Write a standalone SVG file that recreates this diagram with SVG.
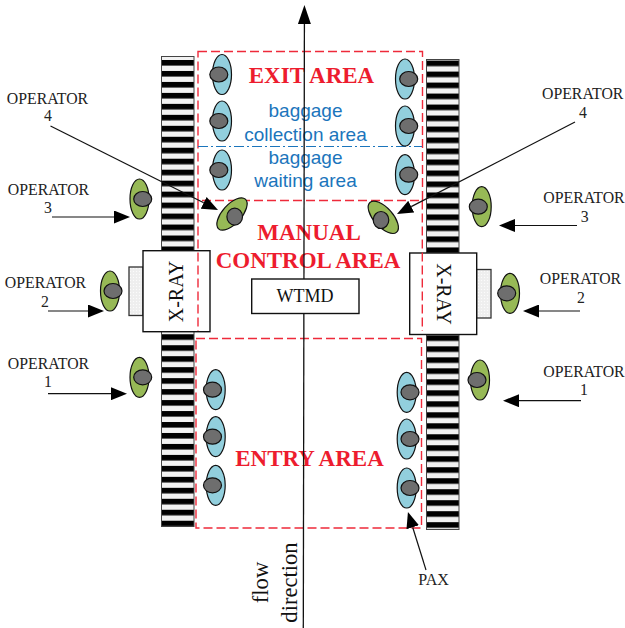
<svg xmlns="http://www.w3.org/2000/svg" width="625" height="628" viewBox="0 0 625 628">
<style>
.zone{fill:none;stroke:#ee2a3a;stroke-width:1.4;stroke-dasharray:9 4}
.red{font:bold 23px "Liberation Serif",serif;fill:#ed1c2e;text-anchor:middle}
.blue{font:19px "Liberation Sans",Arial,sans-serif;fill:#1b75bc;text-anchor:middle}
.op{font:15.800px "Liberation Serif",serif;fill:#222;text-anchor:middle}
.big{font:20px "Liberation Serif",serif;fill:#111;text-anchor:middle}
.flow{font:22.600px "Liberation Serif",serif;fill:#111;text-anchor:middle}
.box{fill:#fff;stroke:#111;stroke-width:1.4}
.side{fill:url(#dots);stroke:#333;stroke-width:1.3}
.belt{stroke:#444;stroke-width:1}
.pax{fill:#92cfdd;stroke:#111;stroke-width:1.2}
.opb{fill:#97b956;stroke:#111;stroke-width:1.2}
.head{fill:#6e6e6e;stroke:#111;stroke-width:1.2}
.conn{fill:none;stroke:#111;stroke-width:1.2;marker-end:url(#arr)}
</style>
<defs>
<pattern id="beltL" patternUnits="userSpaceOnUse" x="161" y="60" width="33" height="10.97"><rect width="33" height="10.97" fill="#f2f2f2"/><rect width="33" height="5.6" fill="#000"/></pattern>
<pattern id="beltR" patternUnits="userSpaceOnUse" x="426" y="60.6" width="33" height="10.99"><rect width="33" height="10.99" fill="#f2f2f2"/><rect width="33" height="5.6" fill="#000"/></pattern>
<pattern id="dots" patternUnits="userSpaceOnUse" width="3" height="3"><rect width="3" height="3" fill="#eeeeee"/><circle cx="1.5" cy="1.5" r=".7" fill="#fbfbfb"/></pattern>
<marker id="arr" markerUnits="userSpaceOnUse" markerWidth="16" markerHeight="13" refX="0" refY="6.5" orient="auto"><path d="M0 0L16 6.5L0 13Z" fill="#000"/></marker>
<marker id="arrBig" markerUnits="userSpaceOnUse" markerWidth="19" markerHeight="13" refX="0" refY="6.5" orient="auto"><path d="M0 0L19 6.5L0 13Z" fill="#000"/></marker>
</defs>
<g id="conveyors">
<rect class="belt" x="161.500" y="56.500" width="32.500" height="470" fill="url(#beltL)"/>
<rect class="belt" x="426.500" y="59.500" width="32.500" height="470" fill="url(#beltR)"/>
</g>
<g id="xray-left">
<rect class="side" x="129" y="267" width="14" height="48.500"/>
<rect class="box" x="143" y="250.700" width="67" height="81"/>
<text class="big" transform="translate(183 291.500) rotate(-90)">X-RAY</text>
</g>
<g id="xray-right">
<rect class="side" x="476.500" y="269.500" width="14.500" height="48.500"/>
<rect class="box" x="409.700" y="253" width="67" height="81.500"/>
<text class="big" transform="translate(436.500 294) rotate(90)">X-RAY</text>
</g>
<g id="exit-area">
<rect class="zone" x="198" y="51.500" width="224.500" height="149"/>
<text class="red" x="311.500" y="82.700">EXIT AREA</text>
<text class="blue" x="305.500" y="117">baggage</text>
<text class="blue" x="305.500" y="140.500">collection area</text>
<path d="M198 146.500H422" fill="none" stroke="#1b75bc" stroke-width="1.100" stroke-dasharray="10 3 2 3"/>
<text class="blue" x="305.500" y="163.500">baggage</text>
<text class="blue" x="305.500" y="186.500">waiting area</text>
</g>
<g id="manual-control-area">
<path class="zone" d="M198 200.500V331M422.300 200.500V331"/>
<text class="red" x="309" y="240">MANUAL</text>
<text class="red" x="308" y="267.700">CONTROL AREA</text>
</g>
<g id="entry-area">
<rect class="zone" x="196" y="338.500" width="225.500" height="189.500"/>
<text class="red" x="309.500" y="465.700">ENTRY AREA</text>
</g>
<g id="connectors">
<path d="M303.300 628L304.400 24" fill="none" stroke="#111" stroke-width="1.300" marker-end="url(#arrBig)"/>
<path class="conn" d="M50.500 126L203.700 202.800"/>
<path class="conn" d="M52 217H114"/>
<path class="conn" d="M48 311H88"/>
<path class="conn" d="M48 393.700H111"/>
<path class="conn" d="M575 122L411.200 206.600"/>
<path class="conn" d="M577 225.500H515"/>
<path class="conn" d="M580 311H539"/>
<path class="conn" d="M581 400.700H519"/>
<path class="conn" d="M426 570L412.700 527.300"/>
</g>
<g id="wtmd">
<rect class="box" x="251.700" y="279" width="107.300" height="34.500"/>
<text class="big" x="305" y="302" style="font-size:18px">WTMD</text>
</g>
<g id="pax-exit-l1"><ellipse class="pax" cx="222" cy="74.500" rx="9.500" ry="20"/><ellipse class="head" cx="218.800" cy="74.500" rx="9" ry="7.500"/></g>
<g id="pax-exit-l2"><ellipse class="pax" cx="222" cy="121" rx="9.500" ry="20"/><ellipse class="head" cx="218.800" cy="121" rx="9" ry="7.500"/></g>
<g id="pax-exit-l3"><ellipse class="pax" cx="222" cy="170" rx="9.500" ry="20"/><ellipse class="head" cx="218.800" cy="170" rx="9" ry="7.500"/></g>
<g id="pax-exit-r1"><ellipse class="pax" cx="405" cy="79" rx="9.500" ry="20"/><ellipse class="head" cx="408.700" cy="79" rx="9" ry="7.500"/></g>
<g id="pax-exit-r2"><ellipse class="pax" cx="405" cy="126" rx="9.500" ry="20"/><ellipse class="head" cx="408.700" cy="126" rx="9" ry="7.500"/></g>
<g id="pax-exit-r3"><ellipse class="pax" cx="405" cy="174.700" rx="9.500" ry="20"/><ellipse class="head" cx="408.700" cy="174.700" rx="9" ry="7.500"/></g>
<g id="pax-entry-l1"><ellipse class="pax" cx="215.700" cy="389.700" rx="9.500" ry="20"/><ellipse class="head" cx="212.500" cy="389.700" rx="9" ry="7.500"/></g>
<g id="pax-entry-l2"><ellipse class="pax" cx="215.700" cy="436.700" rx="9.500" ry="20"/><ellipse class="head" cx="212.500" cy="436.700" rx="9" ry="7.500"/></g>
<g id="pax-entry-l3"><ellipse class="pax" cx="215.700" cy="485.300" rx="9.500" ry="20"/><ellipse class="head" cx="212.500" cy="485.300" rx="9" ry="7.500"/></g>
<g id="pax-entry-r1"><ellipse class="pax" cx="406.700" cy="392.300" rx="9.500" ry="20"/><ellipse class="head" cx="410" cy="392.300" rx="9" ry="7.500"/></g>
<g id="pax-entry-r2"><ellipse class="pax" cx="406.700" cy="439" rx="9.500" ry="20"/><ellipse class="head" cx="410" cy="439" rx="9" ry="7.500"/></g>
<g id="pax-entry-r3"><ellipse class="pax" cx="406.700" cy="488" rx="9.500" ry="20"/><ellipse class="head" cx="410" cy="488" rx="9" ry="7.500"/></g>
<g id="operator-l1"><ellipse class="opb" cx="139.500" cy="377.300" rx="9.500" ry="20"/><ellipse class="head" cx="142.700" cy="377.300" rx="9" ry="7.500"/></g>
<g id="operator-l2"><ellipse class="opb" cx="110" cy="291" rx="9.500" ry="20"/><ellipse class="head" cx="113" cy="291" rx="9" ry="7.500"/></g>
<g id="operator-l3"><ellipse class="opb" cx="139.500" cy="199" rx="9.500" ry="20"/><ellipse class="head" cx="142.700" cy="199" rx="9" ry="7.500"/></g>
<g id="operator-l4"><ellipse class="opb" cx="232" cy="214" rx="9.500" ry="20" transform="rotate(42 232 214)"/><ellipse class="head" cx="234.700" cy="216.700" rx="7.800" ry="8.500"/></g>
<g id="operator-r1"><ellipse class="opb" cx="480" cy="380" rx="9.500" ry="20"/><ellipse class="head" cx="477" cy="380" rx="9" ry="7.500"/></g>
<g id="operator-r2"><ellipse class="opb" cx="510" cy="293.300" rx="9.500" ry="20"/><ellipse class="head" cx="506.700" cy="293.300" rx="9" ry="7.500"/></g>
<g id="operator-r3"><ellipse class="opb" cx="481.700" cy="206.700" rx="9.500" ry="20"/><ellipse class="head" cx="478.300" cy="206.700" rx="9" ry="7.500"/></g>
<g id="operator-r4"><ellipse class="opb" cx="383.300" cy="217.300" rx="9.500" ry="20" transform="rotate(-42 383.300 217.300)"/><ellipse class="head" cx="381" cy="220" rx="7.800" ry="8.500"/></g>
<g id="labels">
<text class="op" x="47.500" y="104">OPERATOR</text><text class="op" x="48" y="121">4</text>
<text class="op" x="48.500" y="195">OPERATOR</text><text class="op" x="48" y="212.700">3</text>
<text class="op" x="45.500" y="288">OPERATOR</text><text class="op" x="45" y="306.700">2</text>
<text class="op" x="48.500" y="369">OPERATOR</text><text class="op" x="48" y="387">1</text>
<text class="op" x="582.700" y="99">OPERATOR</text><text class="op" x="583" y="117.700">4</text>
<text class="op" x="584" y="202.700">OPERATOR</text><text class="op" x="584.700" y="221.700">3</text>
<text class="op" x="580.500" y="284">OPERATOR</text><text class="op" x="581" y="303">2</text>
<text class="op" x="584" y="376.700">OPERATOR</text><text class="op" x="584" y="395">1</text>
<text class="op" x="433.500" y="585" style="font-size:16px">PAX</text>
<text class="flow" transform="translate(268 582.500) rotate(-90)">flow</text>
<text class="flow" transform="translate(296.500 582.500) rotate(-90)">direction</text>
</g>
</svg>
